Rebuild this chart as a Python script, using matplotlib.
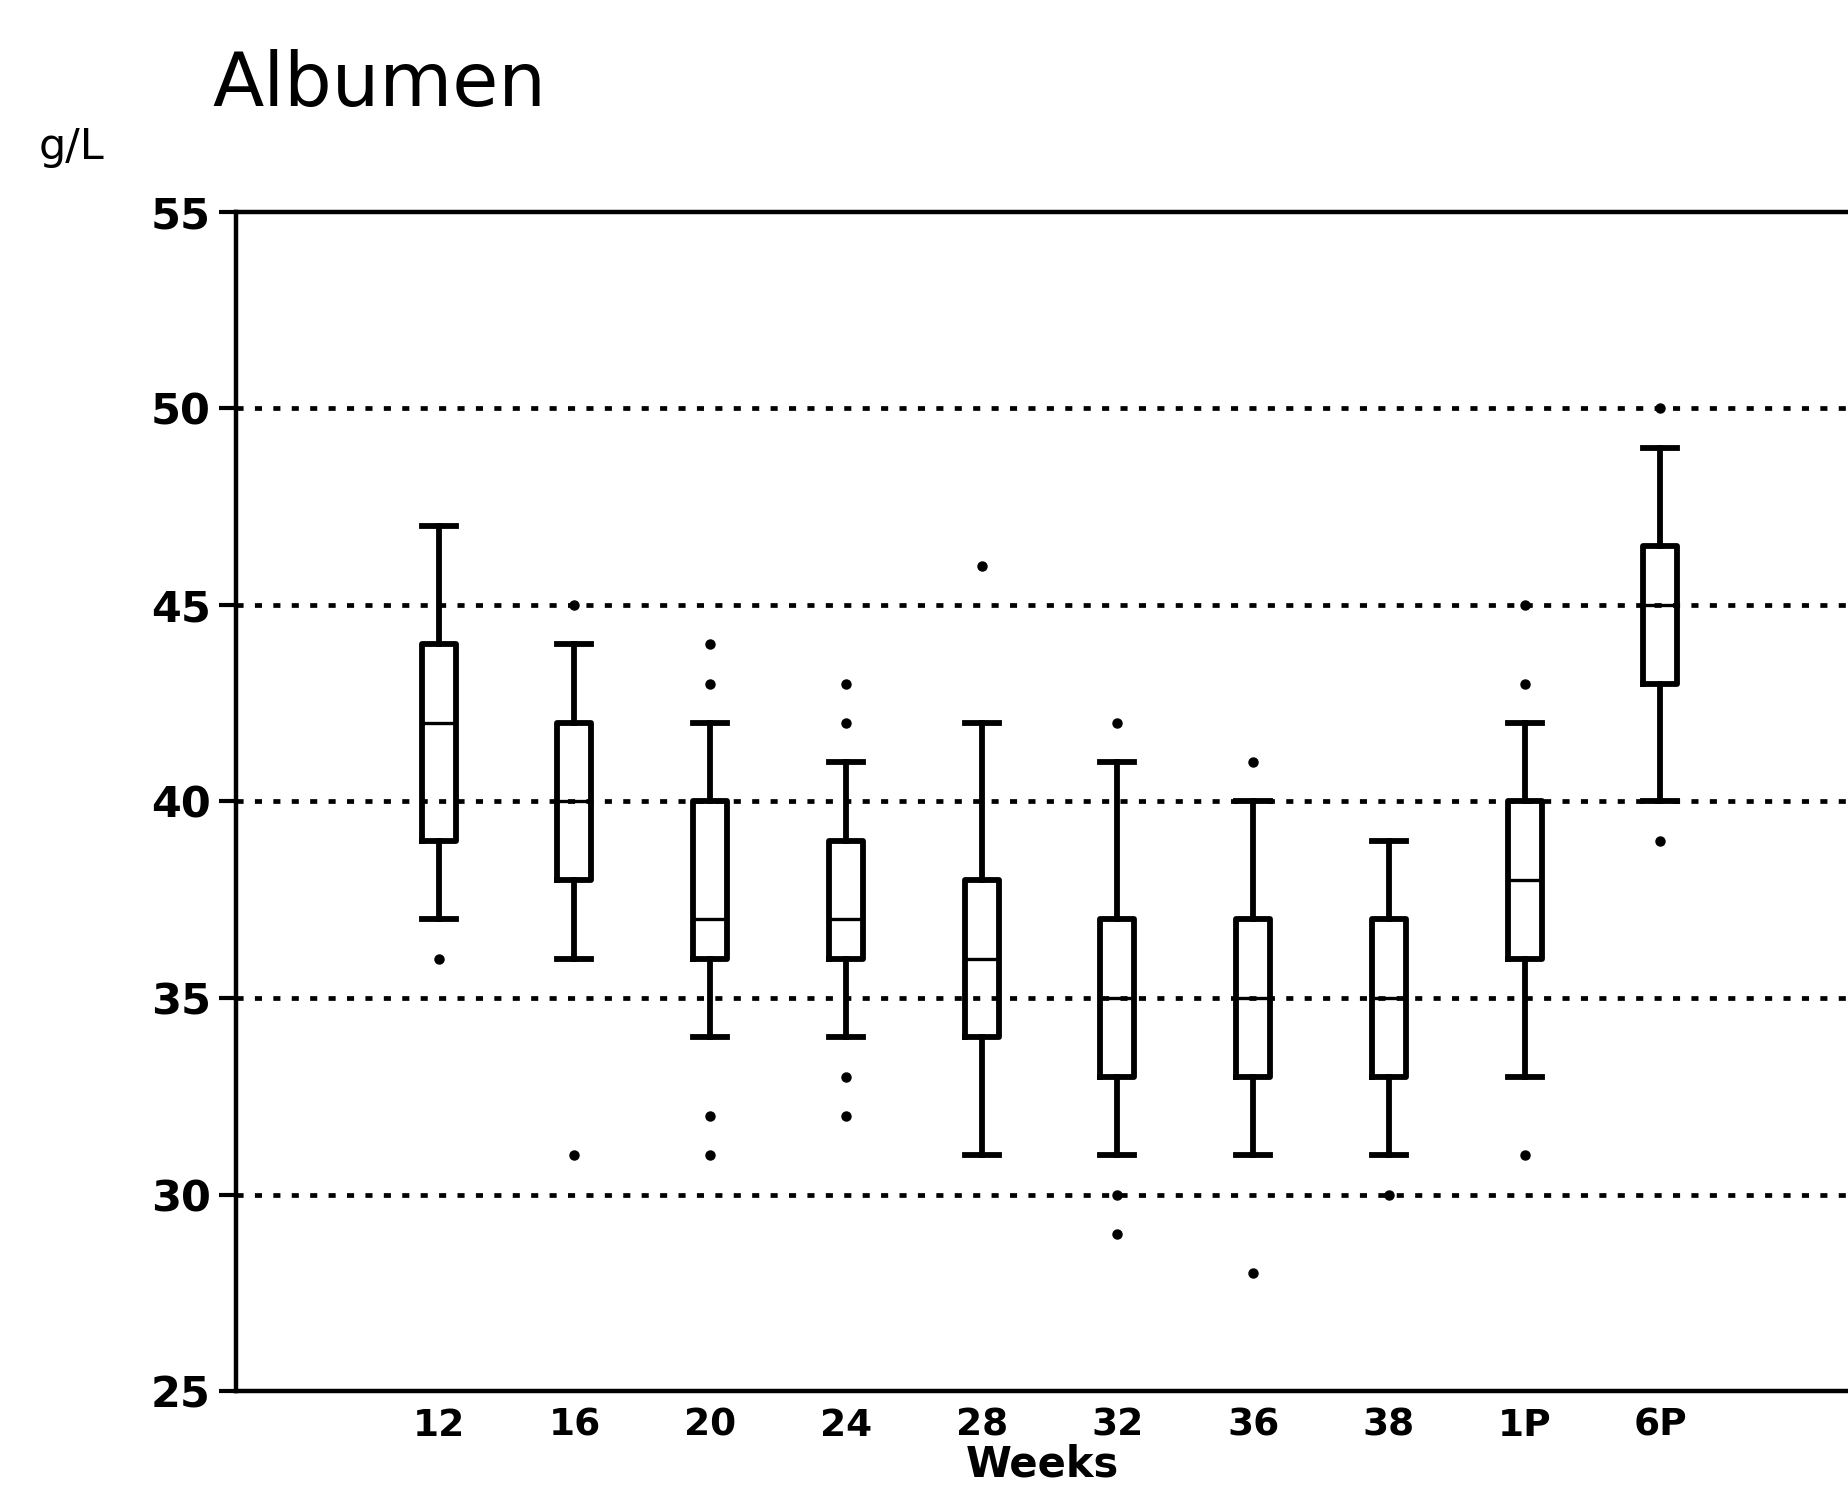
import matplotlib
matplotlib.use("Agg")
import matplotlib.pyplot as plt

weeks = ['12', '16', '20', '24', '28', '32', '36', '38', '1P', '6P']
whishi = [47, 44, 42, 41, 42, 41, 40, 39, 42, 49]
q3 = [44, 42, 40, 39, 38, 37, 37, 37, 40, 46.5]
med = [42, 40, 37, 37, 36, 35, 35, 35, 38, 45]
q1 = [39, 38, 36, 36, 34, 33, 33, 33, 36, 43]
whislo = [37, 36, 34, 34, 31, 31, 31, 31, 33, 40]
fliers = [[36], [45, 31], [44, 43, 32, 31], [43, 42, 33, 32], [46],
          [42, 30, 29], [41, 28], [30], [45, 43, 31], [50, 39]]
yticks = [25, 30, 35, 40, 45, 50, 55]
grid_levels = [30, 35, 40, 45, 50]

plt.rcParams['font.family'] = ['DejaVu Sans']
fig = plt.figure(figsize=(18.49, 15.03), dpi=100)
ax = fig.add_axes([0.1276, 0.0745, 0.8724, 0.7845])

stats = []
for i in range(len(weeks)):
    stats.append(dict(label=weeks[i], whislo=whislo[i], q1=q1[i], med=med[i],
                      q3=q3[i], whishi=whishi[i], fliers=fliers[i]))

positions = list(range(1, len(weeks) + 1))
for lev in grid_levels:
    ax.axhline(lev, color='black', lw=3.4, linestyle=(0, (1.5, 2.4)), zorder=1)

ax.bxp(stats, positions=positions, widths=0.25, showfliers=True,
       boxprops=dict(color='black', lw=4.2),
       medianprops=dict(color='black', lw=2.4),
       whiskerprops=dict(color='black', lw=4.2),
       capprops=dict(color='black', lw=4.2),
       flierprops=dict(marker='o', markerfacecolor='black', markeredgecolor='black',
                       markersize=6.5, linestyle='none'),
       capwidths=0.25, zorder=3)

ax.set_xlim(-0.494, 11.39)
ax.set_ylim(25, 55)
ax.set_yticks(yticks)
ax.set_yticklabels([str(v) for v in yticks], fontsize=31, fontweight='bold')
ax.set_xticks(positions)
ax.set_xticklabels(weeks, fontsize=27, fontweight='bold')
ax.tick_params(axis='y', length=12, width=3, direction='out', pad=6)
ax.tick_params(axis='x', length=0, pad=12)
ax.spines['right'].set_visible(False)
for s in ['left', 'top', 'bottom']:
    ax.spines[s].set_linewidth(3.2)
ax.set_xlabel('Weeks', fontsize=30, fontweight='bold', labelpad=0)

fig.text(0.1147, 0.9295, 'Albumen', fontsize=54, va='baseline', ha='left')
fig.text(0.021, 0.894, 'g/L', fontsize=31, va='baseline', ha='left')

fig.savefig('out.png', dpi=100, facecolor='white')
